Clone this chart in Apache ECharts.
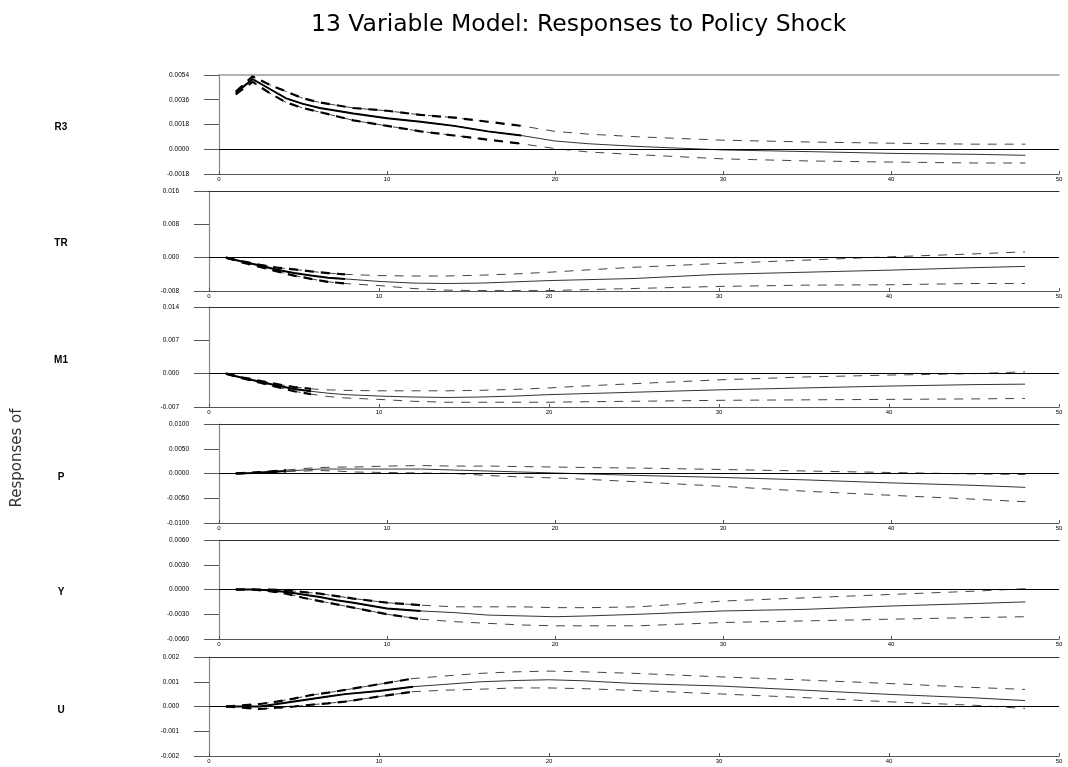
<!DOCTYPE html>
<html><head><meta charset="utf-8">
<script src="https://cdn.jsdelivr.net/npm/echarts@6/dist/echarts.min.js"></script>
<style>html,body{margin:0;padding:0;background:#fff}#c{width:1068px;height:767px}</style>
</head><body><div id="c"></div>
<script>
const horizons=[1,2,3,4,5,6,7,8,10,12,14,16,18,20,22,25,30,35,40,45,48];
const panelNames=["R3","TR","M1","P","Y","U"];

const R3_mid=[0.0041,0.0051,0.0044,0.0037,0.0033,0.0030,0.0028,0.0026,0.00226,0.0020,0.0017,0.0013,0.0010,0.0006,0.0004,0.0002,-0.00005,-0.00017,-0.0003,-0.00037,-0.00044];
const R3_hi=[0.0042,0.0053,0.0047,0.0042,0.0037,0.0034,0.0032,0.0030,0.0028,0.0025,0.0023,0.0020,0.0017,0.0013,0.0011,0.0009,0.00066,0.00053,0.00044,0.00037,0.00037];
const R3_lo=[0.0040,0.0049,0.0041,0.0034,0.0030,0.0027,0.0024,0.0021,0.0017,0.0013,0.0010,0.0007,0.0004,0.00005,-0.0002,-0.0004,-0.0007,-0.00085,-0.00093,-0.0010,-0.0010];

const TR_mid=[0,-0.0010,-0.0019,-0.0029,-0.0037,-0.0043,-0.0048,-0.0051,-0.0057,-0.0061,-0.0062,-0.0061,-0.0058,-0.0055,-0.0053,-0.0050,-0.0040,-0.0035,-0.0030,-0.0024,-0.0021];
const TR_hi=[0,-0.0009,-0.0017,-0.0024,-0.0028,-0.0033,-0.0037,-0.0040,-0.0043,-0.0044,-0.0044,-0.0042,-0.0039,-0.0035,-0.0030,-0.0023,-0.0014,-0.0006,0.0002,0.0009,0.0014];
const TR_lo=[0,-0.0012,-0.0022,-0.0033,-0.0043,-0.0051,-0.0058,-0.0062,-0.0067,-0.0074,-0.0078,-0.0079,-0.0079,-0.0079,-0.0077,-0.0074,-0.0069,-0.0066,-0.0065,-0.0062,-0.0062];

const M1_mid=[0,-0.0009,-0.0017,-0.0025,-0.0032,-0.0037,-0.0041,-0.0044,-0.0047,-0.0049,-0.0050,-0.0049,-0.0047,-0.0044,-0.0042,-0.0039,-0.0034,-0.0030,-0.0026,-0.0023,-0.0022];
const M1_hi=[0,-0.0008,-0.0015,-0.0022,-0.0028,-0.0032,-0.0034,-0.0035,-0.0036,-0.0036,-0.0036,-0.0035,-0.0033,-0.0030,-0.0026,-0.0021,-0.0013,-0.0007,-0.0003,0.0000,0.0004];
const M1_lo=[0,-0.0010,-0.0019,-0.0028,-0.0037,-0.0043,-0.0048,-0.0051,-0.0054,-0.0058,-0.0060,-0.0060,-0.0060,-0.0060,-0.0059,-0.0058,-0.0056,-0.0055,-0.0054,-0.0053,-0.0052];

const P_mid=[0,0.0001,0.0003,0.0005,0.0007,0.0009,0.0009,0.0009,0.0009,0.0009,0.0007,0.0005,0.0003,0.0001,-0.0001,-0.0004,-0.0008,-0.0013,-0.0019,-0.0024,-0.0028];
const P_hi=[0,0.0002,0.0004,0.0007,0.0010,0.0012,0.0013,0.0013,0.0015,0.0016,0.0015,0.0015,0.0014,0.0013,0.0012,0.0011,0.0008,0.0005,0.0002,-0.0001,-0.0002];
const P_lo=[0,0.0001,0.0002,0.0004,0.0005,0.0006,0.0005,0.0003,0.0002,0.0001,0.0000,-0.0004,-0.0007,-0.0009,-0.0012,-0.0017,-0.0026,-0.0036,-0.0044,-0.0052,-0.0057];

const Y_mid=[0,0,-0.0001,-0.0003,-0.0006,-0.0009,-0.0013,-0.0016,-0.0023,-0.0026,-0.0028,-0.0031,-0.0032,-0.0033,-0.0032,-0.0030,-0.0026,-0.0024,-0.0020,-0.0017,-0.0015];
const Y_hi=[0,0,0,-0.0001,-0.0003,-0.0005,-0.0008,-0.0011,-0.0016,-0.0019,-0.0021,-0.0021,-0.0021,-0.0022,-0.0022,-0.0021,-0.0014,-0.0010,-0.0006,-0.0002,0.0001];
const Y_lo=[0,0,-0.0002,-0.0005,-0.0010,-0.0014,-0.0018,-0.0022,-0.0030,-0.0036,-0.0039,-0.0041,-0.0043,-0.0044,-0.0044,-0.0044,-0.0040,-0.0038,-0.0036,-0.0034,-0.0033];

const U_mid=[0,0,0,0.0001,0.0002,0.0003,0.0004,0.0005,0.00063,0.0008,0.0009,0.0010,0.00105,0.00108,0.00104,0.00093,0.00083,0.00066,0.00049,0.00035,0.00024];
const U_hi=[0,0.00005,0.0001,0.0002,0.00032,0.00046,0.00056,0.00067,0.0009,0.00113,0.00124,0.00134,0.0014,0.00143,0.0014,0.00134,0.0012,0.00107,0.00093,0.00077,0.00069];
const U_lo=[0,-0.00005,-0.0001,-0.00005,0,0.00007,0.00013,0.0002,0.0004,0.0006,0.00066,0.0007,0.00075,0.00075,0.00072,0.00065,0.00051,0.00036,0.00019,0.00005,-0.00008];

const yMin=[-0.0018,-0.008,-0.007,-0.01,-0.006,-0.002];
const yMax=[0.0054,0.016,0.014,0.01,0.006,0.002];
const yStep=[0.0018,0.008,0.007,0.005,0.003,0.001];
const yDecimals=[4,3,3,4,4,3];
const xTicks=[0,10,20,30,40,50];
const thickUntil=[18,8,6,4,12,12];

const mids=[R3_mid,TR_mid,M1_mid,P_mid,Y_mid,U_mid];
const his=[R3_hi,TR_hi,M1_hi,P_hi,Y_hi,U_hi];
const los=[R3_lo,TR_lo,M1_lo,P_lo,Y_lo,U_lo];

// layout (pixels)
const layout=[
  {left:219,top:75,h:99,ly:127},
  {left:209,top:191,h:100,ly:243},
  {left:209,top:307,h:100,ly:360},
  {left:219,top:424,h:99,ly:477},
  {left:219,top:540,h:99,ly:592},
  {left:209,top:657,h:99,ly:710}
];

const FONT='Liberation Sans, Arial, sans-serif';
const chart=echarts.init(document.getElementById('c'),null,{renderer:'canvas'});
const grid=[],xAxis=[],yAxis=[],series=[],graphic=[];

function pairs(arr,cut){
  const out=[];
  horizons.forEach((h,k)=>{ if(cut===undefined||h<=cut) out.push([h,arr[k]]); });
  return out;
}

layout.forEach((L,i)=>{
  grid.push({left:L.left,right:9,top:L.top,height:L.h,containLabel:false});
  xAxis.push({
    type:'value',gridIndex:i,min:xTicks[0],max:xTicks[xTicks.length-1],interval:10,
    axisLine:{show:true,onZero:false,lineStyle:{color:'#555',width:1}},
    axisTick:{show:true,length:3,inside:true,lineStyle:{color:'#555'}},
    axisLabel:{show:true,fontSize:6,color:'#000',margin:2,fontFamily:FONT},
    splitLine:{show:false}
  });
  yAxis.push({
    type:'value',gridIndex:i,min:yMin[i],max:yMax[i],interval:yStep[i],
    axisLine:{show:true,onZero:false,lineStyle:{color:'#888',width:1.2}},
    axisTick:{show:true,length:15,lineStyle:{color:'#555'}},
    axisLabel:{show:true,fontSize:6.5,color:'#000',margin:30,fontFamily:FONT,
      formatter:v=>Number(v).toFixed(yDecimals[i])},
    splitLine:{show:false}
  });
  const common={type:'line',xAxisIndex:i,yAxisIndex:i,showSymbol:false,symbol:'none',silent:true,animation:false};
  series.push(Object.assign({},common,{
    data:pairs(mids[i]),lineStyle:{color:'#333',width:1,type:'solid'},
    markLine:{silent:true,symbol:'none',label:{show:false},animation:false,
      data:[{yAxis:0,lineStyle:{color:'#000',width:1,type:'solid'}}]}
  }));
  series.push(Object.assign({},common,{data:pairs(his[i]),lineStyle:{color:'#444',width:1,type:[9,8]}}));
  series.push(Object.assign({},common,{data:pairs(los[i]),lineStyle:{color:'#444',width:1,type:[9,8]}}));
  series.push(Object.assign({},common,{data:pairs(mids[i],thickUntil[i]),lineStyle:{color:'#000',width:2,type:'solid'}}));
  series.push(Object.assign({},common,{data:pairs(his[i],thickUntil[i]),lineStyle:{color:'#000',width:2.2,type:[9,7]}}));
  series.push(Object.assign({},common,{data:pairs(los[i],thickUntil[i]),lineStyle:{color:'#000',width:2.2,type:[9,7]}}));
  graphic.push({type:'text',x:61,y:L.ly,style:{text:panelNames[i],font:'bold 10px '+FONT,fill:'#000',textAlign:'center',textVerticalAlign:'middle'}});
});
// top border axes
layout.forEach((L,i)=>{
  xAxis.push({
    type:'value',gridIndex:i,position:'top',min:xTicks[0],max:xTicks[xTicks.length-1],
    axisLine:{show:true,onZero:false,lineStyle:{color:(i===0?'#999':'#333'),width:(i===0?1.5:1)}},
    axisTick:{show:false},axisLabel:{show:false},splitLine:{show:false}
  });
});

graphic.push({type:'text',x:17,y:458,rotation:Math.PI/2,style:{text:'Responses of',font:'15px DejaVu Sans, sans-serif',fill:'#333',textAlign:'center',textVerticalAlign:'middle'}});

chart.setOption({
  animation:false,
  backgroundColor:'#fff',
  title:{text:'13 Variable Model: Responses to Policy Shock',left:306,top:8,
    textStyle:{fontSize:23.5,fontWeight:'normal',color:'#000',fontFamily:'DejaVu Sans, sans-serif'}},
  grid,xAxis,yAxis,series,graphic
});
</script>
</body></html>
